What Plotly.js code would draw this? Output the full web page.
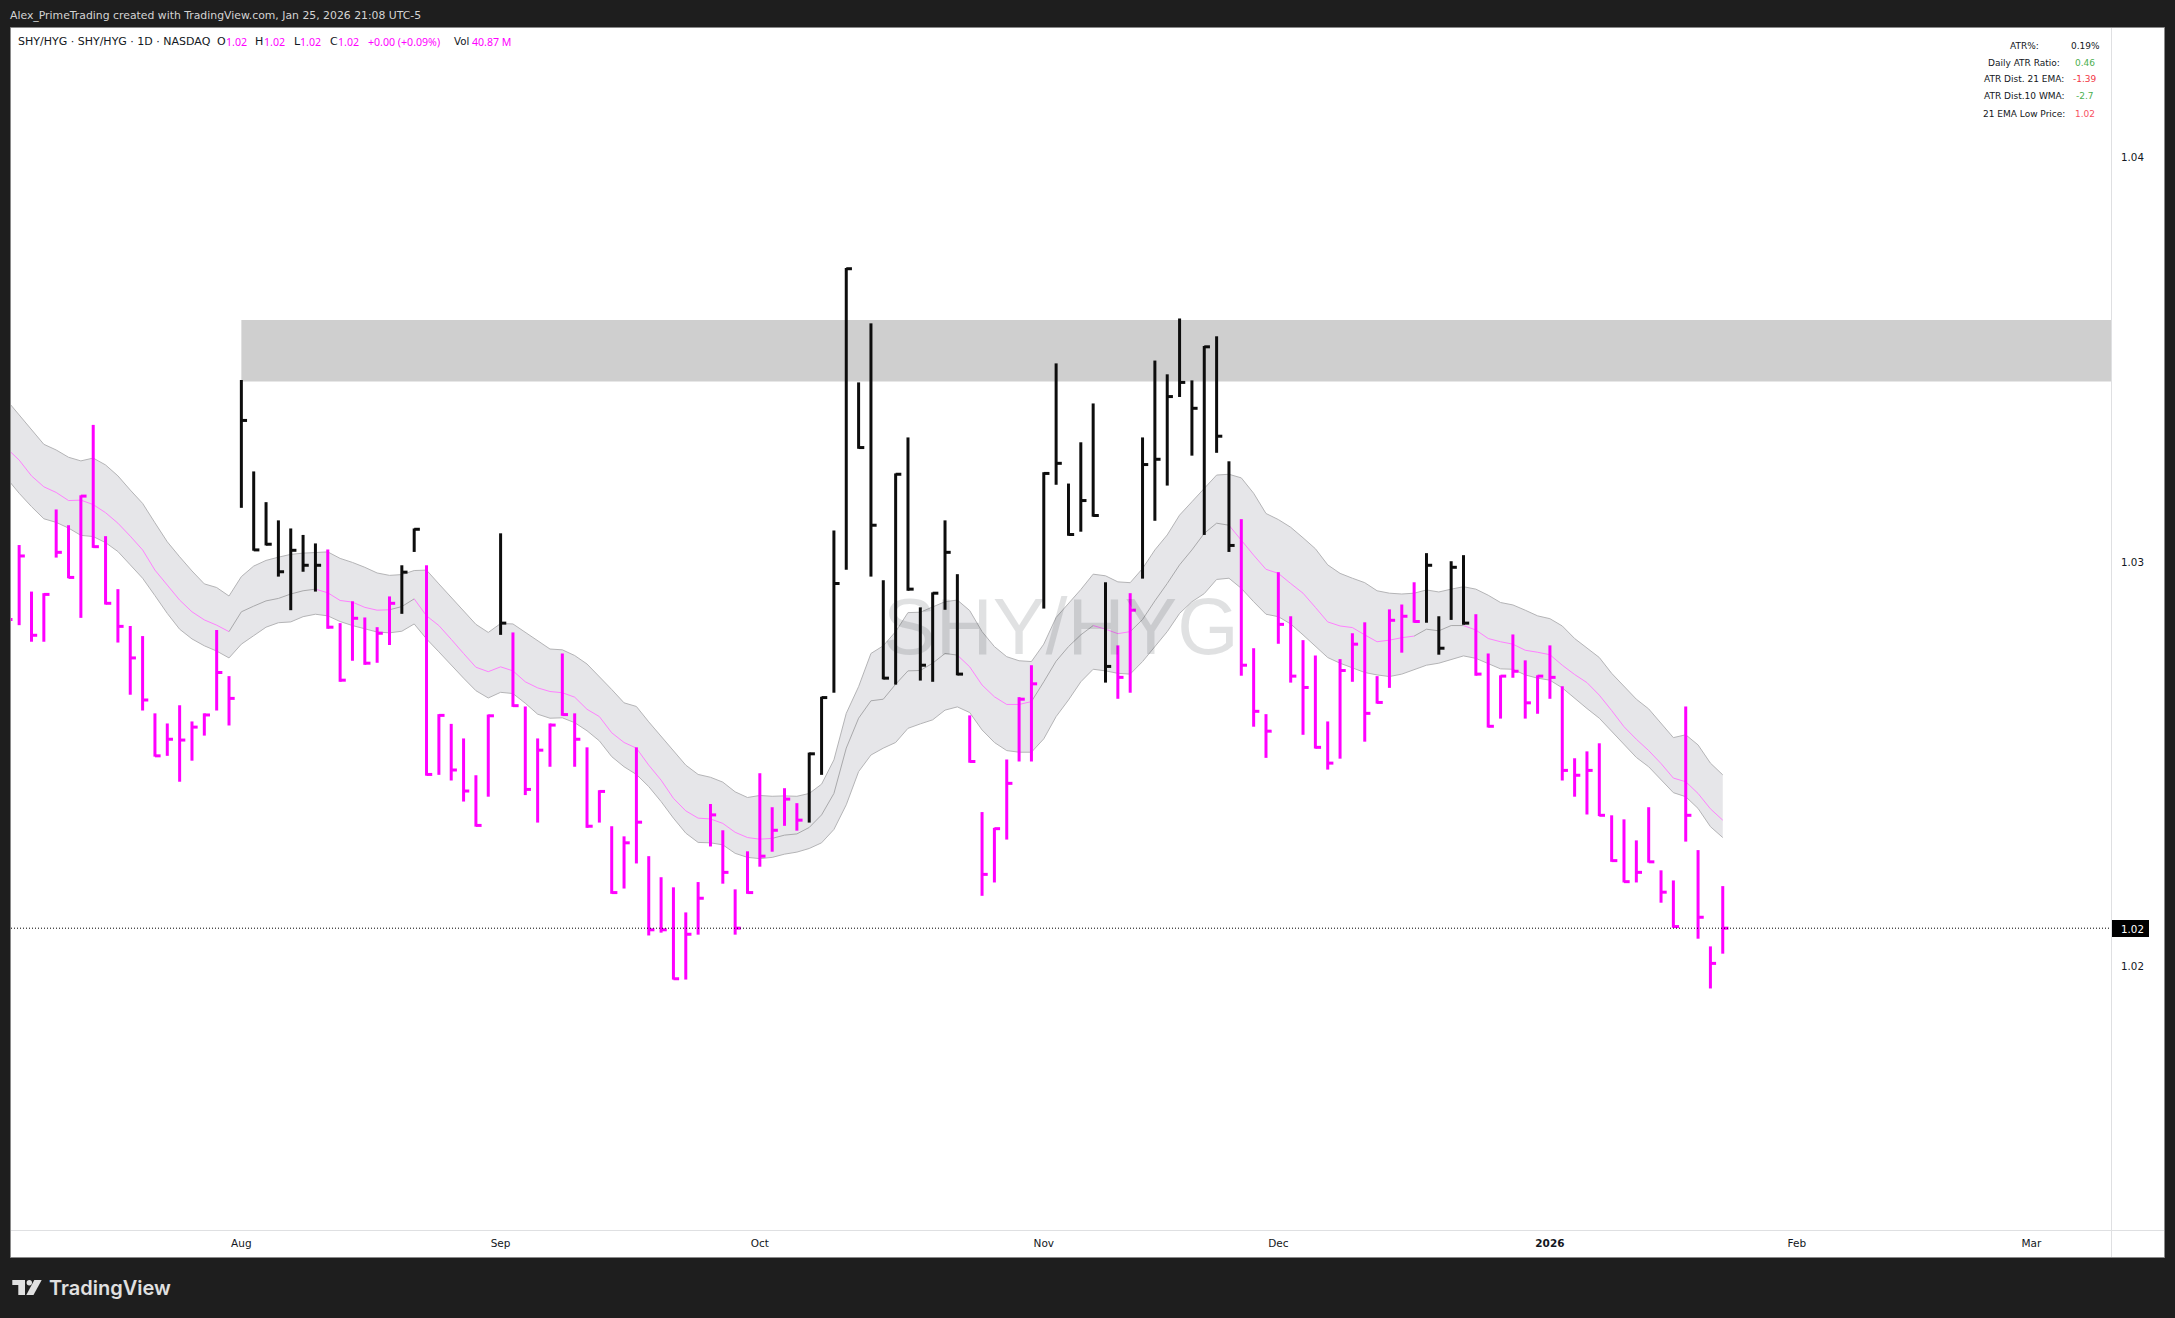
<!DOCTYPE html>
<html>
<head>
<meta charset="utf-8">
<script src="https://cdn.plot.ly/plotly-3.0.1.min.js"></script>
<style>html,body{margin:0;padding:0;background:#1e1e1e}#chart{width:2175px;height:1318px}</style>
</head>
<body>
<div id="chart"></div>
<script>
// session numbers are trading days counted from 1 Aug 2025 (session 0)
const firstSession = -19;
const highs = [1.02906,
 1.03042,1.02927,1.02923,1.03130,1.03091,1.03165,1.03339,1.03064,1.02933,
 1.02842,1.02817,1.02626,1.02601,1.02646,1.02606,1.02626,1.02832,1.02718,
 1.03450,1.03224,1.03148,1.03103,1.03083,1.03067,1.03046,1.03031,1.02849,1.02903,
 1.02863,1.02839,1.02915,1.02992,1.03083,1.02992,1.02624,1.02600,1.02564,1.02473,
 1.02623,1.03071,1.02826,1.02643,1.02564,1.02601,1.02774,1.02626,1.02542,1.02436,
 1.02347,1.02322,1.02542,1.02273,1.02221,1.02196,1.02134,1.02209,1.02402,1.02337,
 1.02191,1.02285,1.02478,1.02394,1.02441,1.02404,1.02529,1.02667,1.03078,1.03727,
 1.03444,1.03590,1.02955,1.03219,1.03308,1.02888,1.02925,1.03103,1.02970,1.02621,
 1.02382,1.02343,1.02512,1.02666,1.02745,1.03222,1.03491,1.03194,1.03296,1.03392,
 1.02950,1.02794,1.02923,1.03308,1.03498,1.03464,1.03602,1.03449,1.03534,1.03558,
 1.03249,1.03106,1.02787,1.02624,1.02975,1.02866,1.02807,1.02769,1.02606,1.02760,
 1.02824,1.02851,1.02718,1.02883,1.02895,1.02950,1.03022,1.02866,1.03002,1.03017,
 1.02871,1.02774,1.02720,1.02821,1.02757,1.02720,1.02794,1.02693,1.02515,1.02532,
 1.02552,1.02374,1.02364,1.02312,1.02394,1.02238,1.02213,1.02643,1.02288,1.02050,
 1.02199];
const lows = [1.02807,
 1.02844,1.02803,1.02803,1.03011,1.02960,1.02862,1.03035,1.02895,1.02801,
 1.02672,1.02633,1.02519,1.02521,1.02457,1.02509,1.02571,1.02633,1.02596,
 1.03134,1.03028,1.03041,1.02964,1.02881,1.02976,1.02927,1.02835,1.02704,1.02756,
 1.02746,1.02751,1.02795,1.02872,1.03025,1.02472,1.02474,1.02460,1.02408,1.02346,
 1.02420,1.02820,1.02642,1.02424,1.02356,1.02494,1.02620,1.02494,1.02343,1.02356,
 1.02180,1.02193,1.02255,1.02077,1.02084,1.01968,1.01968,1.02079,1.02297,1.02205,
 1.02079,1.02180,1.02247,1.02284,1.02348,1.02336,1.02356,1.02474,1.02677,1.02981,
 1.03280,1.02964,1.02710,1.02697,1.02929,1.02707,1.02704,1.02882,1.02720,1.02504,
 1.02175,1.02208,1.02314,1.02507,1.02507,1.02885,1.03191,1.03065,1.03075,1.03112,
 1.02702,1.02662,1.02677,1.02959,1.03102,1.03189,1.03408,1.03263,1.03067,1.03270,
 1.03025,1.02719,1.02593,1.02516,1.02798,1.02702,1.02573,1.02539,1.02487,1.02514,
 1.02704,1.02556,1.02650,1.02689,1.02776,1.02850,1.02850,1.02771,1.02857,1.02845,
 1.02719,1.02591,1.02613,1.02714,1.02613,1.02625,1.02662,1.02460,1.02420,1.02376,
 1.02372,1.02259,1.02208,1.02208,1.02257,1.02158,1.02096,1.02309,1.02069,1.01946,
 1.02032];
const closes = [1.02858,
 1.03015,1.02819,1.02920,1.03024,1.02962,1.03163,1.03038,1.02898,1.02841,
 1.02763,1.02659,1.02521,1.02562,1.02560,1.02592,1.02622,1.02727,1.02663,
 1.03350,1.03030,1.03044,1.02976,1.03029,1.02992,1.02992,1.02839,1.02708,1.02861,
 1.02750,1.02824,1.02898,1.02975,1.03081,1.02475,1.02621,1.02486,1.02434,1.02349,
 1.02620,1.02849,1.02645,1.02438,1.02535,1.02597,1.02623,1.02562,1.02347,1.02433,
 1.02183,1.02306,1.02357,1.02091,1.02091,1.01970,1.02080,1.02169,1.02375,1.02233,
 1.02095,1.02183,1.02273,1.02337,1.02414,1.02362,1.02526,1.02665,1.02947,1.03725,
 1.03283,1.03091,1.02713,1.03217,1.02933,1.02745,1.02923,1.03024,1.02723,1.02507,
 1.02228,1.02341,1.02453,1.02661,1.02699,1.03219,1.03244,1.03068,1.03152,1.03115,
 1.02742,1.02715,1.02881,1.03241,1.03254,1.03409,1.03444,1.03380,1.03532,1.03311,
 1.03041,1.02745,1.02631,1.02582,1.02846,1.02718,1.02690,1.02542,1.02503,1.02732,
 1.02797,1.02626,1.02653,1.02856,1.02866,1.02853,1.02992,1.02787,1.02987,1.02849,
 1.02723,1.02594,1.02718,1.02730,1.02652,1.02718,1.02715,1.02485,1.02473,1.02485,
 1.02374,1.02262,1.02210,1.02233,1.02259,1.02184,1.02099,1.02374,1.02122,1.02008,
 1.02095];
const bandUpper = [1.03400,1.03363,1.03326,1.03291,1.03277,1.03259,1.03250,1.03257,1.03240,1.03213,
 1.03178,1.03145,1.03097,1.03050,1.03013,1.02978,1.02946,1.02937,1.02916,
 1.02964,1.02990,1.03004,1.03012,1.03019,1.03022,1.03024,1.03025,1.03009,1.02999,
 1.02987,1.02973,1.02967,1.02969,1.02979,1.02980,1.02946,1.02912,1.02879,1.02846,
 1.02826,1.02848,1.02847,1.02826,1.02805,1.02785,1.02783,1.02769,1.02748,1.02717,
 1.02685,1.02652,1.02643,1.02605,1.02570,1.02534,1.02498,1.02475,1.02468,1.02456,
 1.02432,1.02418,1.02423,1.02421,1.02422,1.02421,1.02428,1.02451,1.02511,1.02626,
 1.02692,1.02774,1.02793,1.02828,1.02875,1.02876,1.02890,1.02902,1.02906,1.02880,
 1.02828,1.02791,1.02766,1.02756,1.02754,1.02797,1.02863,1.02898,1.02932,1.02970,
 1.02966,1.02951,1.02949,1.02984,1.03030,1.03067,1.03116,1.03149,1.03182,1.03215,
 1.03217,1.03208,1.03170,1.03120,1.03105,1.03086,1.03060,1.03033,1.02993,1.02972,
 1.02960,1.02949,1.02929,1.02923,1.02921,1.02923,1.02931,1.02926,1.02933,1.02939,
 1.02933,1.02918,1.02900,1.02894,1.02881,1.02867,1.02860,1.02842,1.02811,1.02787,
 1.02764,1.02725,1.02692,1.02661,1.02637,1.02601,1.02566,1.02573,1.02548,1.02503,
 1.02474];
const emaMid = [1.03281,1.03252,1.03213,1.03186,1.03172,1.03152,1.03153,1.03142,1.03122,1.03096,
 1.03064,1.03030,1.02980,1.02943,1.02906,1.02877,1.02857,1.02844,1.02828,
 1.02877,1.02891,1.02904,1.02910,1.02921,1.02929,1.02933,1.02924,1.02905,1.02901,
 1.02888,1.02881,1.02882,1.02890,1.02909,1.02867,1.02843,1.02809,1.02774,1.02740,
 1.02729,1.02741,1.02731,1.02704,1.02689,1.02680,1.02677,1.02666,1.02636,1.02618,
 1.02578,1.02554,1.02540,1.02498,1.02461,1.02416,1.02385,1.02367,1.02365,1.02354,
 1.02332,1.02319,1.02315,1.02317,1.02325,1.02328,1.02344,1.02375,1.02428,1.02540,
 1.02614,1.02657,1.02661,1.02698,1.02731,1.02732,1.02750,1.02774,1.02770,1.02741,
 1.02696,1.02667,1.02648,1.02648,1.02655,1.02704,1.02755,1.02791,1.02820,1.02843,
 1.02834,1.02823,1.02828,1.02858,1.02904,1.02947,1.02993,1.03030,1.03071,1.03096,
 1.03091,1.03054,1.03017,1.02982,1.02972,1.02947,1.02923,1.02888,1.02852,1.02842,
 1.02838,1.02820,1.02803,1.02807,1.02813,1.02817,1.02834,1.02830,1.02843,1.02843,
 1.02832,1.02811,1.02803,1.02797,1.02782,1.02777,1.02771,1.02745,1.02722,1.02702,
 1.02671,1.02633,1.02593,1.02562,1.02534,1.02502,1.02466,1.02457,1.02428,1.02390,
 1.02362];
const bandLower = [1.03207,1.03170,1.03137,1.03107,1.03098,1.03084,1.03066,1.03063,1.03048,1.03026,
 1.02993,1.02960,1.02917,1.02873,1.02834,1.02810,1.02793,1.02780,1.02763,
 1.02797,1.02818,1.02839,1.02850,1.02852,1.02865,1.02871,1.02867,1.02853,1.02843,
 1.02835,1.02827,1.02825,1.02829,1.02847,1.02810,1.02778,1.02745,1.02713,1.02682,
 1.02664,1.02678,1.02675,1.02651,1.02624,1.02614,1.02615,1.02603,1.02583,1.02558,
 1.02519,1.02494,1.02475,1.02445,1.02408,1.02367,1.02330,1.02307,1.02306,1.02301,
 1.02280,1.02270,1.02267,1.02270,1.02278,1.02283,1.02292,1.02306,1.02339,1.02400,
 1.02482,1.02523,1.02540,1.02554,1.02589,1.02600,1.02610,1.02634,1.02642,1.02628,
 1.02585,1.02554,1.02534,1.02530,1.02530,1.02563,1.02618,1.02659,1.02704,1.02735,
 1.02731,1.02725,1.02723,1.02754,1.02791,1.02828,1.02873,1.02902,1.02922,1.02957,
 1.02960,1.02935,1.02902,1.02871,1.02865,1.02847,1.02820,1.02791,1.02764,1.02750,
 1.02739,1.02727,1.02721,1.02717,1.02723,1.02735,1.02745,1.02750,1.02759,1.02768,
 1.02762,1.02748,1.02736,1.02735,1.02721,1.02713,1.02708,1.02689,1.02663,1.02638,
 1.02614,1.02581,1.02548,1.02517,1.02494,1.02461,1.02430,1.02420,1.02391,1.02346,
 1.02319];
const blackSessions = [0,1,2,3,4,5,6,13,14,21,46,47,48,49,50,51,52,53,54,55,56,57,58,65,66,67,68,69,70,73,74,75,76,77,78,79,80,96,97,98,99];
const grayEmaSessions = [0,1,2,3,4,5,6,13,14,44,45,46,47,48,49,50,51,52,53,54,55,56,57,58,65,66,67,68,69,73,74,75,76,77,78,79,80,96,97,98,99];
const monthTicks = [0,21,42,65,84,106,126,145];
const monthLabels = ['Aug','Sep','Oct','Nov','Dec','<b>2026</b>','Feb','Mar'];
const priceTicks = [1.02,1.03,1.04];
const priceLabels = ['1.02','1.03','1.04'];
const zone = [1.03446,1.03598];
const zoneStart = 0;
const lastPrice = 1.02095;
const legendSymbol = 'SHY/HYG · SHY/HYG · 1D · NASDAQ';
const statNames = ['ATR%:','Daily ATR Ratio:','ATR Dist. 21 EMA:','ATR Dist.10 WMA:','21 EMA Low Price:'];
const statValues = ['0.19%','0.46','-1.39','-2.7','1.02'];

const sessions = highs.map((_, i) => firstSession + i);
const L = 11, R = 2111, T = 28, B = 1230, W = 2175, H = 1318;
const px = x => (x - L) / (R - L);
const py = y => (B - y) / (B - T);
const xRange = [-18.66, 151.45];
const yRange = [1.01349, 1.04320];
const FONT = '"DejaVu Sans", sans-serif';
const MAGENTA = '#ff00ff', BLACK = '#0d0d0d';

function barTraces(color, test) {
  const sx = [], sy = [], tx = [], ty = [];
  sessions.forEach((s, i) => {
    if (!test(s)) return;
    sx.push(s, s, null); sy.push(highs[i], lows[i], null);
    tx.push(s, s + 0.46, null); ty.push(closes[i], closes[i], null);
  });
  const base = {type:'scatter', mode:'lines', hoverinfo:'skip', showlegend:false, cliponaxis:true};
  return [
    Object.assign({}, base, {x:sx, y:sy, line:{color, width:3}}),
    Object.assign({}, base, {x:tx, y:ty, line:{color, width:3}})
  ];
}
function emaTrace(color, test) {
  const x = [], y = [];
  sessions.forEach((s, i) => {
    if (i === 0 || !test(s)) return;
    x.push(sessions[i-1], s, null); y.push(emaMid[i-1], emaMid[i], null);
  });
  return {type:'scatter', mode:'lines', x, y, hoverinfo:'skip', showlegend:false, line:{color, width:1}};
}
const isBlack = s => blackSessions.includes(s);
const isGrayEma = s => grayEmaSessions.includes(s);
const traces = [
  {type:'scatter', mode:'lines', x:sessions, y:bandLower, hoverinfo:'skip', showlegend:false, line:{color:'#b4b4b6', width:1}},
  {type:'scatter', mode:'lines', x:sessions, y:bandUpper, hoverinfo:'skip', showlegend:false, line:{color:'#b4b4b6', width:1}, fill:'tonexty', fillcolor:'#e6e6e9'},
  emaTrace('#ff80ff', s => !isGrayEma(s)),
  emaTrace('#a9a9ab', isGrayEma),
  ...barTraces(MAGENTA, s => !isBlack(s)),
  ...barTraces(BLACK, isBlack)
];

function note(text, x, y, opts) {
  return Object.assign({
    text, xref:'paper', yref:'paper', x:px(x), y:py(y), xanchor:'left', yanchor:'middle',
    showarrow:false, borderpad:0, borderwidth:0,
    font:{family:FONT, size:11, color:'#131722'}
  }, opts || {});
}
const pink = s => ({font:{family:'"Noto Sans", sans-serif', size:s, color:MAGENTA}});
const annotations = [
  note('Alex_PrimeTrading created with TradingView.com, Jan 25, 2026 21:08 UTC-5', 10, 15, {font:{family:FONT, size:10.85, color:'#d4d4d4'}}),
  note(legendSymbol, 18, 42),
  note('O', 217, 42), note('1.02', 225.5, 42, pink(10.6)),
  note('H', 255, 42), note('1.02', 264, 42, pink(10.6)),
  note('L', 293.5, 42), note('1.02', 300, 42, pink(10.6)),
  note('C', 330, 42), note('1.02', 338, 42, pink(10.6)),
  note('+0.00 (+0.09%)', 368, 42, pink(10.6)),
  note('Vol', 453.5, 42, {font:{family:FONT, size:10.2, color:'#131722'}}), note('40.87 M', 472, 42, pink(10.6)),
  note('SHY/HYG', 1061, 626, {xanchor:'center', font:{family:'"Liberation Sans", sans-serif', size:79, color:'rgba(19,23,34,0.13)'}}),
  note('1.02', 2132, 928.5, {xanchor:'center', font:{family:FONT, size:10.3, color:'#ffffff'}}),
  note('TradingView', 49, 1288, {font:{family:'Inter, sans-serif', size:20, weight:600, color:'#e0e0e0'}})
];
const statColors = ['#131722','#4caf50','#f23645','#4caf50','#f7525f'];
const statY = [45.7,62.7,79.3,96.3,113.7];
statNames.forEach((t, i) => {
  annotations.push(note(t, 2024.3, statY[i], {xanchor:'center', font:{family:FONT, size:9, color:'#131722'}}));
  annotations.push(note(statValues[i], 2085, statY[i], {xanchor:'center', font:{family:FONT, size:9, color:statColors[i]}}));
});

const paperRect = (x0, y0, x1, y1, fill, layer) => ({type:'rect', xref:'paper', yref:'paper', x0:px(x0), x1:px(x1), y0:py(y0), y1:py(y1), fillcolor:fill, line:{width:0}, layer:layer||'above'});
const paperLine = (x0, y0, x1, y1, color) => ({type:'line', xref:'paper', yref:'paper', x0:px(x0), x1:px(x1), y0:py(y0), y1:py(y1), line:{color, width:1}, layer:'above'});
const logoPath = pts => 'M' + pts.map(p => px(p[0]) + ',' + py(p[1])).join('L') + 'Z';
const logoFill = '#e0e0e0';
const shapes = [
  Object.assign(paperRect(10.5, 27.5, 2164.5, 1257.5, '#ffffff', 'below'), {line:{color:'#8a8a8a', width:1}}),
  {type:'rect', xref:'x', yref:'y', x0:zoneStart, x1:xRange[1], y0:zone[0], y1:zone[1], fillcolor:'#cfcfcf', line:{width:0}, layer:'below'},
  {type:'line', xref:'x', yref:'y', x0:xRange[0], x1:xRange[1], y0:lastPrice, y1:lastPrice, line:{color:'#000000', width:1, dash:'1px,2px'}, layer:'above'},
  paperLine(2111.5, 28, 2111.5, 1257, '#dfe0e2'),
  paperLine(11, 1230.5, 2164, 1230.5, '#dfe0e2'),
  paperRect(2112, 920, 2149, 937, '#000000'),
  {type:'path', xref:'paper', yref:'paper', path:logoPath([[12.3,1280],[25,1280],[25,1295],[18.3,1295],[18.3,1285],[12.3,1285]]), fillcolor:logoFill, line:{width:0}},
  {type:'circle', xref:'paper', yref:'paper', x0:px(26.6), x1:px(32), y0:py(1285.4), y1:py(1280), fillcolor:logoFill, line:{width:0}},
  {type:'path', xref:'paper', yref:'paper', path:logoPath([[34.3,1280],[41.7,1280],[33.5,1295],[26.3,1295]]), fillcolor:logoFill, line:{width:0}}
];

Plotly.newPlot('chart', traces, {
  width:W, height:H, autosize:false,
  margin:{l:L, r:W-R, t:T, b:H-B, pad:0},
  paper_bgcolor:'#1e1e1e', plot_bgcolor:'#ffffff',
  showlegend:false, hovermode:false, dragmode:false,
  font:{family:FONT, size:10.5, color:'#131722'},
  xaxis:{type:'linear', range:xRange, tickmode:'array', tickvals:monthTicks, ticktext:monthLabels,
    showgrid:false, zeroline:false, showline:false, ticks:'outside', ticklen:3, tickcolor:'rgba(0,0,0,0)',
    tickfont:{family:FONT, size:10.5, color:'#131722'}, automargin:false, fixedrange:true},
  yaxis:{type:'linear', side:'right', range:yRange, tickmode:'array', tickvals:priceTicks, ticktext:priceLabels,
    showgrid:false, zeroline:false, showline:false, ticks:'outside', ticklen:7, tickcolor:'rgba(0,0,0,0)',
    tickfont:{family:FONT, size:10.3, color:'#131722'}, automargin:false, fixedrange:true},
  annotations, shapes
}, {displayModeBar:false, staticPlot:true});
</script>
</body>
</html>
